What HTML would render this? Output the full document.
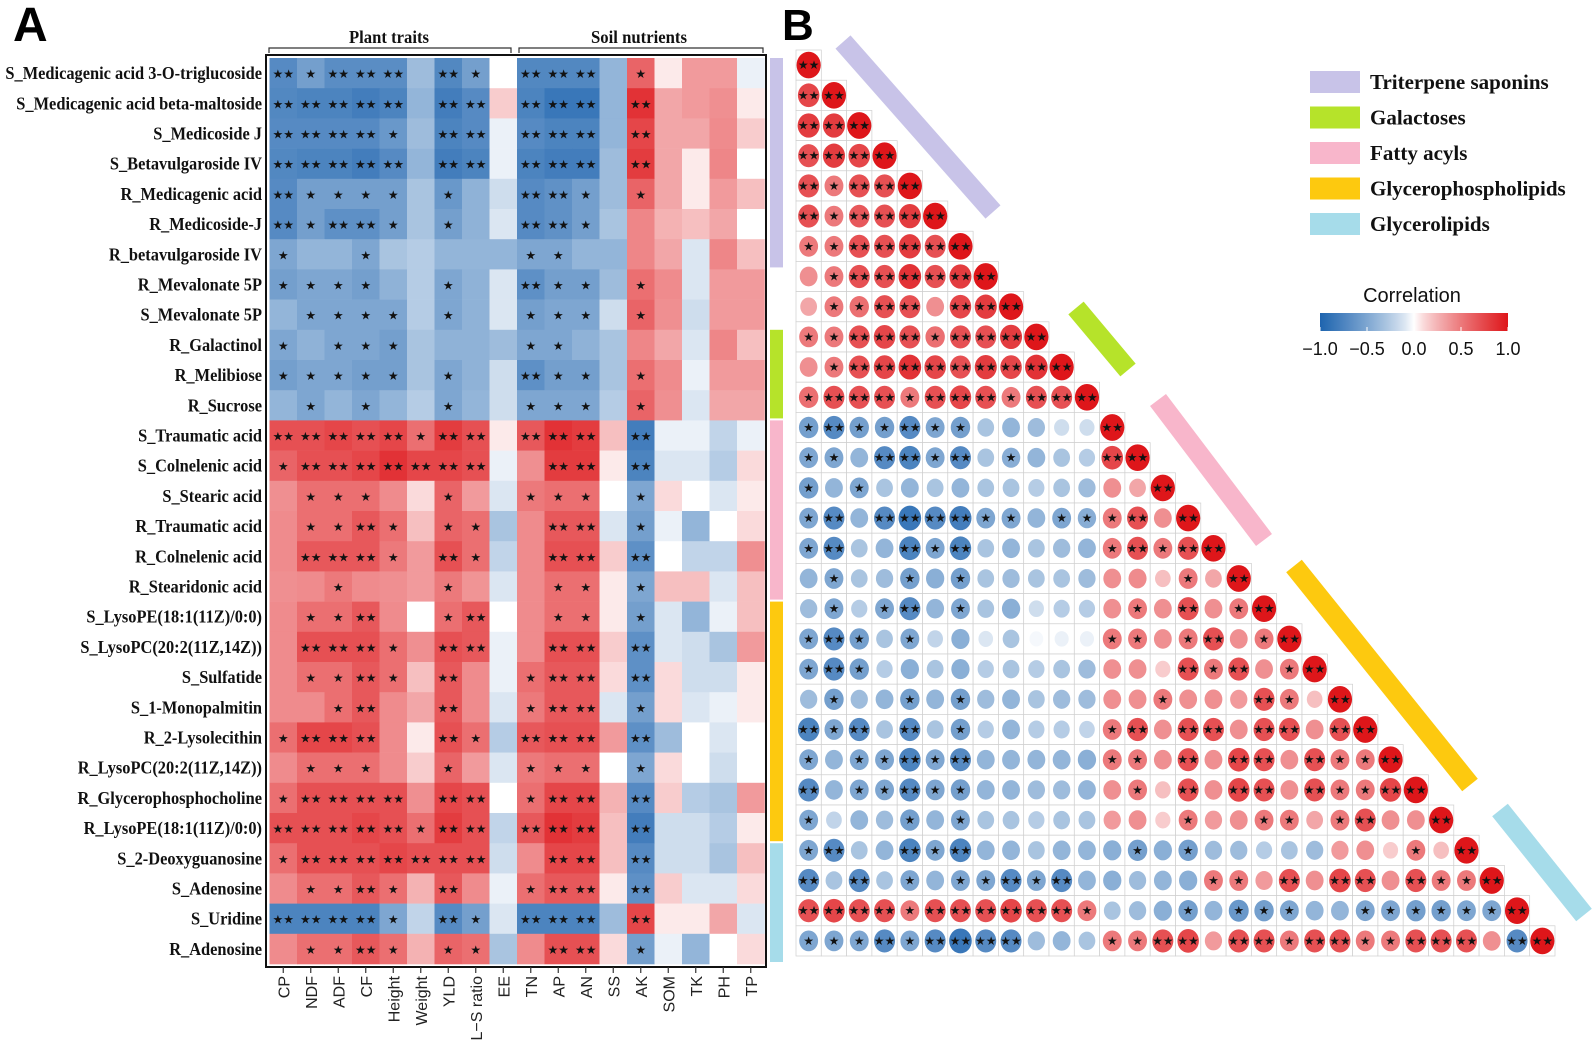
<!DOCTYPE html>
<html><head><meta charset="utf-8"><title>Correlation heatmap and matrix</title>
<style>
html,body{margin:0;padding:0;background:#fff;}
svg{display:block;}
.rl{font-family:"Liberation Serif",serif;font-weight:bold;font-size:18px;fill:#111;}
.xl{font-family:"Liberation Sans",sans-serif;font-size:16px;fill:#222;}
.st{font-family:"DejaVu Sans",sans-serif;font-size:12px;fill:#111;}
.lg{font-family:"Liberation Serif",serif;font-weight:bold;font-size:21px;fill:#111;}
</style></head>
<body>
<svg id="chart" width="1596" height="1055" viewBox="0 0 1596 1055" xmlns="http://www.w3.org/2000/svg">
<text x="13" y="41" font-family="Liberation Sans,sans-serif" font-weight="bold" font-size="48">A</text>
<text x="782" y="40" font-family="Liberation Sans,sans-serif" font-weight="bold" font-size="44">B</text>
<g>
<path d="M269,53 V48 H511 V53" fill="none" stroke="#333" stroke-width="1.2"/>
<text x="389" y="43" text-anchor="middle" class="rl" font-size="17" textLength="80" lengthAdjust="spacingAndGlyphs">Plant traits</text>
</g>
<g>
<path d="M519,53 V48 H763 V53" fill="none" stroke="#333" stroke-width="1.2"/>
<text x="639" y="43" text-anchor="middle" class="rl" font-size="17" textLength="96" lengthAdjust="spacingAndGlyphs">Soil nutrients</text>
</g>
<g id="heat"></g>
<g id="groups"></g>
<g id="corr"></g>
<g id="bars"></g>
<g id="legend"></g>
<defs><linearGradient id="cg" x1="0" x2="1" y1="0" y2="0"></linearGradient></defs>
<g id="cbar"></g>
</svg>
<script>
const rowLabels=["S_Medicagenic acid 3-O-triglucoside","S_Medicagenic acid beta-maltoside","S_Medicoside J","S_Betavulgaroside IV","R_Medicagenic acid","R_Medicoside-J","R_betavulgaroside IV","R_Mevalonate 5P","S_Mevalonate 5P","R_Galactinol","R_Melibiose","R_Sucrose","S_Traumatic acid","S_Colnelenic acid","S_Stearic acid","R_Traumatic acid","R_Colnelenic acid","R_Stearidonic acid","S_LysoPE(18:1(11Z)/0:0)","S_LysoPC(20:2(11Z,14Z))","S_Sulfatide","S_1-Monopalmitin","R_2-Lysolecithin","R_LysoPC(20:2(11Z,14Z))","R_Glycerophosphocholine","R_LysoPE(18:1(11Z)/0:0)","S_2-Deoxyguanosine","S_Adenosine","S_Uridine","R_Adenosine"];
const colLabels=["CP","NDF","ADF","CF","Height","Weight","YLD","L\u2212S ratio","EE","TN","AP","AN","SS","AK","SOM","TK","PH","TP"];
const heatValues=[
[-.7,-.55,-.68,-.68,-.68,-.35,-.72,-.55,0,-.72,-.72,-.72,-.4,.6,.05,.35,.35,-.05],
[-.72,-.75,-.75,-.8,-.75,-.4,-.8,-.7,.15,-.75,-.85,-.85,-.4,.85,.3,.35,.4,.05],
[-.7,-.7,-.7,-.7,-.6,-.35,-.75,-.7,-.05,-.7,-.75,-.75,-.4,.75,.3,.3,.42,.15],
[-.72,-.75,-.75,-.8,-.7,-.4,-.8,-.75,-.05,-.75,-.8,-.8,-.35,.8,.3,.05,.44,0],
[-.7,-.55,-.55,-.55,-.55,-.3,-.6,-.42,-.15,-.7,-.65,-.55,-.35,.6,.3,.05,.35,.2],
[-.7,-.55,-.66,-.66,-.55,-.3,-.55,-.42,-.1,-.7,-.65,-.55,-.3,.44,.25,.2,.3,0],
[-.5,-.4,-.4,-.5,-.3,-.25,-.4,-.4,-.4,-.5,-.5,-.4,-.4,.44,.3,-.1,.44,.2],
[-.55,-.5,-.5,-.55,-.42,-.25,-.5,-.42,-.1,-.66,-.55,-.55,-.35,.55,.42,-.1,.35,.35],
[-.4,-.5,-.5,-.5,-.5,-.25,-.5,-.42,-.1,-.55,-.5,-.5,-.15,.6,.4,-.15,.35,.35],
[-.5,-.42,-.5,-.5,-.55,-.3,-.42,-.42,-.35,-.5,-.5,-.42,-.3,.44,.3,-.1,.44,.2],
[-.55,-.5,-.5,-.55,-.55,-.3,-.5,-.42,-.15,-.66,-.55,-.55,-.3,.55,.42,-.05,.35,.35],
[-.4,-.5,-.4,-.5,-.4,-.25,-.5,-.4,-.15,-.5,-.5,-.5,-.25,.6,.4,-.1,.3,.3],
[.7,.7,.75,.7,.75,.55,.8,.7,.05,.66,.85,.8,.2,-.8,-.05,-.05,-.2,-.05],
[.6,.7,.7,.75,.85,.75,.75,.7,-.05,.4,.8,.8,.05,-.75,-.1,-.1,-.25,.1],
[.4,.55,.55,.55,.42,.1,.6,.35,-.1,.5,.55,.55,0,-.5,.1,0,-.1,.05],
[.42,.55,.55,.66,.55,.2,.6,.55,-.3,.42,.66,.66,-.1,-.55,-.05,-.4,0,.1],
[.42,.66,.66,.66,.5,.35,.7,.55,-.2,.42,.7,.7,.15,-.66,0,-.2,-.2,.4],
[.4,.42,.5,.42,.4,.35,.5,.38,-.1,.42,.55,.55,.05,-.5,.2,.2,-.1,.2],
[.42,.55,.55,.66,.42,0,.55,.66,0,.42,.55,.55,.05,-.55,-.1,-.4,-.05,.2],
[.42,.7,.7,.7,.55,.4,.7,.66,-.05,.42,.7,.7,.15,-.66,-.1,-.15,-.3,.35],
[.42,.55,.55,.66,.55,.2,.66,.42,-.05,.55,.66,.66,.1,-.66,.1,-.15,-.15,.05],
[.42,.42,.55,.66,.42,.3,.66,.42,-.1,.5,.66,.66,-.1,-.55,.1,-.1,-.05,.05],
[.55,.75,.75,.7,.42,.05,.7,.55,-.25,.66,.7,.7,.35,-.66,-.35,0,-.1,0],
[.42,.55,.55,.55,.42,.15,.6,.35,-.1,.5,.55,.55,0,-.5,.1,0,-.15,0],
[.55,.7,.7,.7,.7,.4,.75,.7,0,.55,.75,.75,.25,-.7,.15,-.25,-.3,.35],
[.7,.7,.7,.75,.7,.55,.8,.7,-.2,.66,.85,.8,.2,-.8,-.15,-.15,-.25,.05],
[.55,.7,.7,.7,.75,.7,.7,.7,-.15,.42,.75,.75,.2,-.7,-.15,-.15,-.3,.2],
[.42,.55,.55,.66,.55,.25,.66,.42,-.05,.55,.66,.66,.05,-.66,.15,-.1,-.1,.1],
[-.75,-.75,-.75,-.75,-.5,-.2,-.7,-.55,-.1,-.75,-.75,-.75,-.35,.75,.05,.05,.3,-.1],
[.42,.55,.55,.66,.55,.25,.6,.55,-.3,.42,.7,.7,.1,-.55,-.05,-.4,0,.1]];
// lower triangle of metabolite correlations (row i: columns 0..i-1); diagonal = 1
const corrValues=[
[],
[.75],
[.8,.8],
[.7,.8,.75],
[.7,.5,.7,.7],
[.7,.5,.66,.7,.8],
[.5,.5,.7,.7,.8,.7],
[.4,.5,.7,.7,.85,.7,.8],
[.3,.5,.55,.7,.7,.4,.75,.8],
[.5,.5,.7,.75,.7,.55,.7,.7,.8],
[.4,.5,.7,.75,.85,.75,.7,.8,.75,.85],
[.55,.7,.7,.7,.5,.7,.75,.7,.5,.7,.7],
[-.55,-.7,-.55,-.55,-.7,-.5,-.55,-.3,-.4,-.35,-.15,-.15],
[-.5,-.5,-.4,-.7,-.75,-.5,-.7,-.3,-.45,-.4,-.3,-.25,.75],
[-.55,-.4,-.5,-.3,-.4,-.3,-.4,-.3,-.3,-.25,-.3,-.35,.4,.3],
[-.5,-.7,-.4,-.7,-.85,-.7,-.8,-.5,-.5,-.4,-.5,-.45,.5,.7,.4],
[-.5,-.7,-.3,-.4,-.75,-.5,-.75,-.3,-.4,-.3,-.35,-.4,.5,.7,.5,.7],
[-.4,-.5,-.3,-.35,-.55,-.44,-.55,-.3,-.35,-.3,-.3,-.35,.4,.42,.2,.5,.3],
[-.35,-.5,-.25,-.5,-.7,-.4,-.5,-.3,-.44,-.15,-.25,-.25,.4,.5,.4,.7,.4,.5],
[-.5,-.7,-.55,-.3,-.5,-.2,-.44,-.1,-.3,-.02,-.05,-.05,.5,.5,.4,.5,.7,.4,.5],
[-.5,-.7,-.55,-.25,-.44,-.3,-.44,-.25,-.3,-.25,-.3,-.35,.4,.4,.15,.7,.5,.7,.4,.5],
[-.35,-.55,-.35,-.4,-.55,-.4,-.55,-.35,-.4,-.3,-.35,-.35,.4,.4,.5,.4,.4,.35,.7,.5,.2],
[-.75,-.5,-.7,-.3,-.7,-.3,-.55,-.25,-.4,-.25,-.25,-.2,.5,.7,.4,.7,.7,.4,.7,.7,.4,.7],
[-.5,-.4,-.5,-.5,-.75,-.5,-.7,-.4,-.4,-.4,-.4,-.44,.5,.5,.4,.7,.4,.75,.7,.4,.7,.5,.5],
[-.7,-.4,-.5,-.5,-.7,-.5,-.55,-.4,-.4,-.35,-.35,-.4,.4,.5,.2,.7,.4,.75,.7,.4,.7,.5,.5,.75],
[-.5,-.2,-.4,-.35,-.55,-.4,-.5,-.3,-.3,-.25,-.3,-.3,.35,.4,.15,.5,.35,.4,.5,.5,.3,.5,.7,.4,.4],
[-.5,-.7,-.3,-.4,-.75,-.5,-.75,-.4,-.4,-.3,-.4,-.4,-.44,-.55,-.44,-.55,-.35,-.35,-.25,-.3,-.35,.35,.4,.15,.5,.2],
[-.7,-.3,-.7,-.3,-.5,-.4,-.5,-.5,-.7,-.5,-.7,-.4,-.44,-.35,-.4,-.44,.5,.5,.35,.7,.4,.75,.7,.4,.7,.5,.5],
[.7,.75,.7,.7,.5,.7,.7,.7,.75,.7,.7,.5,-.3,-.35,-.44,-.55,-.4,-.6,-.55,-.5,-.4,-.4,-.5,-.5,-.55,-.55,-.5,-.5],
[-.5,-.5,-.5,-.7,-.5,-.7,-.85,-.7,-.7,-.35,-.4,-.3,.5,.5,.7,.75,.35,.7,.7,.5,.7,.7,.5,.5,.7,.7,.7,.4,-.7]];
const groupNames=["Triterpene saponins","Galactoses","Fatty acyls","Glycerophospholipids","Glycerolipids"];
const groupColors=["#c8c3e8","#b6e32a","#f8b6cb","#fdc90f","#a6dcea"];
const groupStartRow=[0,9,12,18,26];
const groupEndRow=[6,11,17,25,29];
const cbTicks=[-1,-0.5,0,0.5,1];

const NS="http://www.w3.org/2000/svg";
function mk(tag,attrs,parent){const e=document.createElementNS(NS,tag);for(const k in attrs)e.setAttribute(k,attrs[k]);parent.appendChild(e);return e;}
function color(v){const t=Math.pow(Math.min(1,Math.abs(v)),0.8);const end=v<0?[30,100,175]:[222,22,26];
 const c=end.map(x=>Math.round(255+(x-255)*t));return `rgb(${c[0]},${c[1]},${c[2]})`;}
function stars(v){const a=Math.abs(v);return a>=0.65?"\u2605\u2605":a>=0.45?"\u2605":"";}

const hx0=269.5,hcw=27.5,hy0=58,hrh=30.2;
const hx=j=>hx0+j*hcw, hy=i=>hy0+i*hrh;
const heat=document.getElementById('heat');
heatValues.forEach((row,i)=>{row.forEach((v,j)=>{
 const r=mk('rect',{x:hx(j),y:hy(i),width:hcw+0.3,height:hrh+0.3,fill:color(v)},heat);
 
 
 const s=stars(v);if(s){const t=mk('text',{x:hx(j)+hcw/2,y:hy(i)+hrh/2+5,'text-anchor':'middle',class:'st','font-size':13},heat);t.textContent=s;
 
 }
});});
const fr=mk('rect',{x:266,y:55,width:500,height:912,fill:'none',stroke:'#111','stroke-width':2},heat);


rowLabels.forEach((l,i)=>{const t=mk('text',{x:262,y:hy(i)+hrh/2+6,'text-anchor':'end',class:'rl'},heat);t.textContent=l;
 
 
 const w=t.getComputedTextLength();if(w>0){t.setAttribute('textLength',(w*0.91).toFixed(1));t.setAttribute('lengthAdjust','spacingAndGlyphs');}});
colLabels.forEach((l,j)=>{const cx=hx(j)+hcw/2;
 mk('line',{x1:cx,x2:cx,y1:967,y2:973,stroke:'#333','stroke-width':1.2},heat);
 const t=mk('text',{x:0,y:0,'text-anchor':'end',class:'xl',transform:`translate(${cx+6},976) rotate(-90)`},heat);t.textContent=l;
 
 });

const gb=document.getElementById('groups');
groupNames.forEach((g,k)=>{const r=mk('rect',{x:770,y:hy(groupStartRow[k]),width:13,height:hy(groupEndRow[k]+1)-hy(groupStartRow[k])-2,fill:groupColors[k]},gb);
 
 });

const bx0=796,bcw=25.3,by0=50,brh=30.2;
const bx=j=>bx0+j*bcw, by=i=>by0+i*brh;
const corr=document.getElementById('corr');
corrValues.forEach((row,i)=>{const full=row.concat([1]);full.forEach((v,j)=>{
 mk('rect',{x:bx(j),y:by(i),width:bcw,height:brh,fill:'#fff',stroke:'#cfcfcf','stroke-width':0.7},corr);
 const f=0.55+0.43*Math.abs(v);
 const e=mk('ellipse',{cx:bx(j)+bcw/2,cy:by(i)+brh/2,rx:(bcw/2-0.3)*f,ry:(brh/2-1.5)*f,fill:color(v)},corr);
 
 
 const s=stars(v);if(s){const t=mk('text',{x:bx(j)+bcw/2,y:by(i)+brh/2+4,'text-anchor':'middle',class:'st','font-size':11},corr);t.textContent=s;
 
 }
});});

const diagBars=[[843,42,993,212],[1076,308,1128,370],[1158,400,1264,540],[1294,566,1470,785],[1500,810,1584,915]];
const bars=document.getElementById('bars');
diagBars.forEach((b,k)=>{const l=mk('line',{x1:b[0],y1:b[1],x2:b[2],y2:b[3],stroke:groupColors[k],'stroke-width':20},bars);
 
 });

const lg=document.getElementById('legend');
groupNames.forEach((g,k)=>{const y=71+k*35.5;
 const r=mk('rect',{x:1310,y:y,width:50,height:22,fill:groupColors[k]},lg);
 
 
 const t=mk('text',{x:1370,y:y+18,class:'lg'},lg);t.textContent=g;
 
 });

const grad=document.getElementById('cg');
for(let k=0;k<=20;k++){const v=-1+k/10;mk('stop',{offset:(k*5)+'%','stop-color':color(v)},grad);}
const cb=document.getElementById('cbar');
const ct=mk('text',{x:1412,y:302,'text-anchor':'middle','font-family':'Liberation Sans,sans-serif','font-size':20,fill:'#111'},cb);ct.textContent='Correlation';


mk('rect',{x:1320,y:313,width:188,height:18,fill:'url(#cg)'},cb);
const cx=v=>1320+(v+1)/2*188;
cbTicks.forEach(v=>{mk('line',{x1:cx(v),x2:cx(v),y1:327,y2:331,stroke:'#fff','stroke-width':1},cb);
 const t=mk('text',{x:cx(v),y:355,'text-anchor':'middle','font-family':'Liberation Sans,sans-serif','font-size':18,fill:'#111'},cb);
 t.textContent=(v<0?'\u2212':'')+Math.abs(v).toFixed(1);
 
 });
</script>
</body></html>
